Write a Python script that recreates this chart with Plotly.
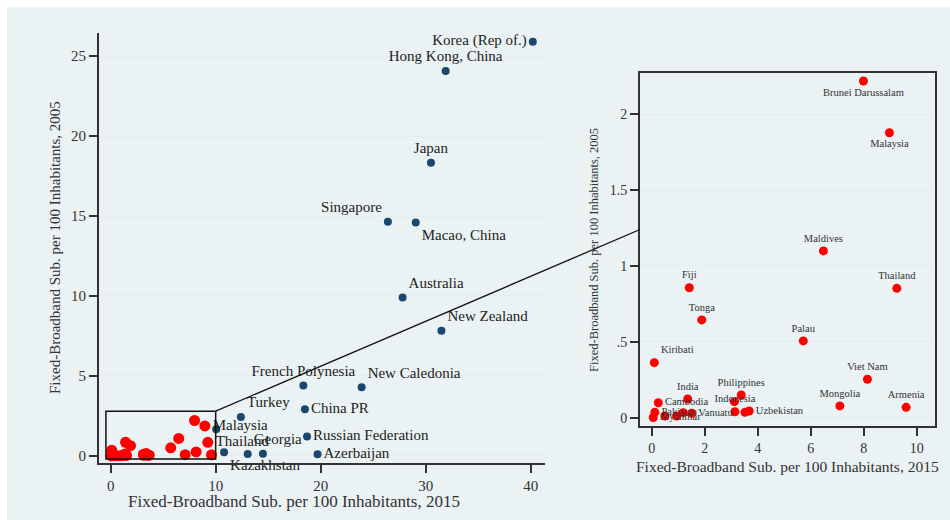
import plotly.graph_objects as go

# Countries outside the zoom box (2015 value above 10), shown in navy
big_names = ["Korea (Rep of.)", "Hong Kong, China", "Japan", "Singapore", "Macao, China",
             "Australia", "New Zealand", "French Polynesia", "New Caledonia", "Turkey",
             "China PR", "Russian Federation", "Azerbaijan", "Kazakhstan", "Georgia", "", ""]
big_x2015 = [40.2, 31.9, 30.5, 26.4, 29.05, 27.8, 31.5, 18.35, 23.9, 12.4,
             18.5, 18.7, 19.7, 10.8, 13.05, 14.5, 10.05]
big_y2005 = [25.9, 24.06, 18.33, 14.64, 14.6, 9.9, 7.83, 4.4, 4.29, 2.44,
             2.92, 1.21, 0.1, 0.23, 0.12, 0.14, 1.67]
big_pos = ["middle left", "top center", "top center", "top left", "bottom right",
           "top right", "top right", "top center", "top right", "top right",
           "middle right", "middle right", "middle right", "bottom right", "top right",
           "middle right", "middle right"]

# Countries inside the zoom box, shown in red
small_names = ["Brunei Darussalam", "Malaysia", "Maldives", "Fiji", "Thailand", "Tonga",
               "Palau", "Kiribati", "Viet Nam", "India", "Philippines", "Mongolia",
               "Armenia", "Cambodia", "Indonesia", "", "Uzbekistan", "", "Pakistan",
               "Myanmar", "Vanuatu", "", "", ""]
small_x2015 = [7.99, 8.97, 6.48, 1.42, 9.25, 1.89, 5.72, 0.10, 8.14, 1.36, 3.38, 7.10,
               9.60, 0.25, 3.14, 3.12, 3.68, 3.52, 0.12, 0.06, 1.51, 0.50, 0.94, 1.19]
small_y2005 = [2.217, 1.877, 1.099, 0.857, 0.853, 0.645, 0.507, 0.364, 0.255, 0.125,
               0.151, 0.079, 0.070, 0.100, 0.041, 0.107, 0.046, 0.037, 0.037, 0.003,
               0.031, 0.013, 0.013, 0.035]
small_pos = ["bottom center", "bottom center", "top center", "top center", "top center",
             "top center", "top center", "top right", "top center", "top center",
             "top center", "top center", "top center", "middle right", "top center",
             "middle right", "middle right", "middle right", "middle right", "middle right",
             "middle right", "middle right", "middle right", "middle right"]
# Only these two get a label on the full-range panel
overview_labels = ["Malaysia", "Thailand"]

left_xticks = [0, 10, 20, 30, 40]
left_yticks = [0, 5, 10, 15, 20, 25]
right_xticks = [0, 2, 4, 6, 8, 10]
right_yticks = [0, 0.5, 1, 1.5, 2]
right_yticklabels = ["0", ".5", "1", "1.5", "2"]

x_title = "Fixed-Broadband Sub. per 100 Inhabitants, 2015"
y_title = "Fixed-Broadband Sub. per 100 Inhabitants, 2005"

W, H = 950, 520
NAVY = "#1a476f"
RED = "#ff0000"
BG = "#eaf2f3"
GRID = "#e3ecef"
INK = "#333333"
SERIF = "Liberation Serif, Times New Roman, serif"

# panel geometry (pixels) -> paper fractions
L_dom_x = [99 / W, 545 / W]
L_dom_y = [1 - 463 / H, 1 - 33 / H]
R_dom_x = [640 / W, 935 / W]
R_dom_y = [1 - 426 / H, 1 - 73 / H]
L_rx = [-1.11, 41.36]
L_ry = [-0.44, 26.44]
R_rx = [-0.44, 10.69]
R_ry = [-0.053, 2.27]

fig = go.Figure()

fig.add_trace(go.Scatter(
    x=big_x2015, y=big_y2005, mode="markers+text", text=big_names,
    textposition=big_pos, textfont=dict(family=SERIF, size=15, color="#222"),
    marker=dict(color=NAVY, size=8), cliponaxis=False, xaxis="x", yaxis="y",
    showlegend=False, hoverinfo="skip"))

left_small_text = [n if n in overview_labels else "" for n in small_names]
fig.add_trace(go.Scatter(
    x=small_x2015, y=small_y2005, mode="markers+text", text=left_small_text,
    textposition="middle right", textfont=dict(family=SERIF, size=15, color="#222"),
    marker=dict(color=RED, size=11), cliponaxis=False, xaxis="x", yaxis="y",
    showlegend=False, hoverinfo="skip"))

fig.add_trace(go.Scatter(
    x=small_x2015, y=small_y2005, mode="markers+text", text=small_names,
    textposition=small_pos, textfont=dict(family=SERIF, size=10.5, color="#333"),
    marker=dict(color=RED, size=9), cliponaxis=False, xaxis="x2", yaxis="y2",
    showlegend=False, hoverinfo="skip"))


def left_to_paper(xv, yv):
    px = L_dom_x[0] + (xv - L_rx[0]) / (L_rx[1] - L_rx[0]) * (L_dom_x[1] - L_dom_x[0])
    py = L_dom_y[0] + (yv - L_ry[0]) / (L_ry[1] - L_ry[0]) * (L_dom_y[1] - L_dom_y[0])
    return px, py


def right_to_paper(xv, yv):
    px = R_dom_x[0] + (xv - R_rx[0]) / (R_rx[1] - R_rx[0]) * (R_dom_x[1] - R_dom_x[0])
    py = R_dom_y[0] + (yv - R_ry[0]) / (R_ry[1] - R_ry[0]) * (R_dom_y[1] - R_dom_y[0])
    return px, py


box = dict(x0=-0.45, x1=10, y0=-0.19, y1=2.8)
c0 = left_to_paper(box["x1"], box["y1"])
c1 = right_to_paper(R_rx[0], 1.24)

shapes = [
    dict(type="rect", xref="paper", yref="paper", x0=7 / W, x1=1, y0=0, y1=1 - 7 / H,
         fillcolor=BG, line=dict(width=0), layer="below"),
    dict(type="rect", xref="x", yref="y", x0=box["x0"], x1=box["x1"], y0=box["y0"],
         y1=box["y1"], line=dict(color="#111", width=1.5)),
    dict(type="line", xref="paper", yref="paper", x0=c0[0], y0=c0[1], x1=c1[0], y1=c1[1],
         line=dict(color="#111", width=1.3)),
]

tickfont = dict(family=SERIF, size=15, color=INK)
tickfont_r = dict(family=SERIF, size=14, color=INK)

axis_common = dict(showline=True, linecolor=INK, ticks="outside", ticklen=8,
                   tickcolor=INK, tickwidth=1.5, zeroline=False)


def title_note(text, px, py, size, angle=0):
    return dict(text=text, xref="paper", yref="paper", x=px / W, y=1 - py / H,
                xanchor="center", yanchor="middle", textangle=angle, showarrow=False,
                font=dict(family=SERIF, size=size, color=INK))


fig.update_layout(
    width=W, height=H, margin=dict(l=0, r=0, t=0, b=0),
    paper_bgcolor="white", plot_bgcolor="white", showlegend=False,
    shapes=shapes,
    xaxis=dict(domain=L_dom_x, range=L_rx, tickvals=left_xticks, showgrid=False,
               linewidth=1.5, anchor="y", tickfont=tickfont, **axis_common),
    yaxis=dict(domain=L_dom_y, range=L_ry, tickvals=left_yticks, showgrid=True,
               gridcolor=GRID, gridwidth=1, linewidth=2, anchor="x",
               tickfont=tickfont, **axis_common),
    xaxis2=dict(domain=R_dom_x, range=R_rx, tickvals=right_xticks, showgrid=False,
                linewidth=2, mirror=True, anchor="y2", tickfont=tickfont_r, **axis_common),
    yaxis2=dict(domain=R_dom_y, range=R_ry, tickvals=right_yticks,
                ticktext=right_yticklabels, showgrid=True, gridcolor=GRID, gridwidth=1,
                linewidth=2, mirror=True, anchor="x2", tickfont=tickfont_r, **axis_common),
    annotations=[
        title_note(x_title, 294, 501, 17),
        title_note(y_title, 55, 248, 15, -90),
        title_note(x_title, 787, 466, 15.5),
        title_note(y_title, 594, 250, 12.5, -90),
    ],
)

fig.write_html("out.html")
